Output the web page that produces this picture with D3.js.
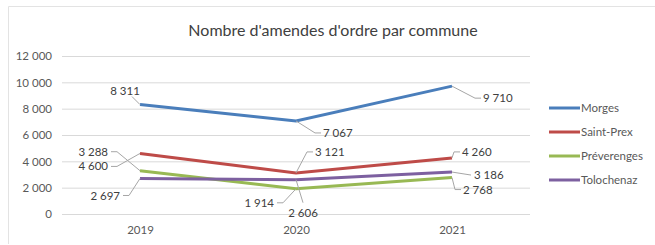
<!DOCTYPE HTML>
<html>
<head>
<meta charset="utf-8">
<title>Amendes d'ordre</title>
<script src="https://d3js.org/d3.v7.min.js"></script>
<style>
  body { margin: 0; background: #ffffff; }
  text { font-family: Lato, "Liberation Sans", sans-serif; }
</style>
</head>

<body>
<script>

"use strict";

const years = ["2019", "2020", "2021"];
const communes = ["Morges", "Saint-Prex", "Préverenges", "Tolochenaz"];
const morges = [8311, 7067, 9710];
const saintPrex = [4600, 3121, 4260];
const preverenges = [3288, 1914, 2768];
const tolochenaz = [2697, 2606, 3186];
const yTicks = [0, 2000, 4000, 6000, 8000, 10000, 12000];

const colors = ["#4a7ebb", "#be4b48", "#98b954", "#7d60a0"];
const seriesValues = [morges, saintPrex, preverenges, tolochenaz];

// where each data label sits relative to its point, and the leader path shape
// [dx, dy, anchor, leader type]
const labelPlacement = [
  [[-15, -14, "middle", "up"], [27, 12, "start", "right"], [31, 12, "start", "right"]],
  [[-32, 13, "end", "left"], [19, -21, "start", "rightUp"], [10, -6, "start", "rightUp"]],
  [[-32, -19, "end", "left"], [-22, 14, "end", "left"], [11, 12, "start", "right"]],
  [[-20, 17, "end", "left"], [7, 33, "middle", "down"], [22, 3, "start", "flat"]]
];

const width = 655, height = 245;
const margin = {left: 62, right: 125, top: 56, bottom: 31};

const fmt = (v) => d3.format(",")(v).replace(/,/g, " ");

const svg = d3.select("body").append("svg")
  .attr("width", width)
  .attr("height", height);

// chart frame
svg.append("path")
  .attr("d", "M8.5,244 V6.5 H655")
  .attr("fill", "none")
  .attr("stroke", "#e3e3e3");

svg.append("text")
  .attr("x", 333)
  .attr("y", 36)
  .attr("text-anchor", "middle")
  .attr("font-size", 16)
  .attr("fill", "#404040")
  .text("Nombre d'amendes d'ordre par commune");

const x = d3.scalePoint()
  .domain(years)
  .range([margin.left, width - margin.right])
  .padding(0.5);

const y = d3.scaleLinear()
  .domain([0, 12000])
  .range([height - margin.bottom, margin.top]);

const yAxis = svg.append("g")
  .attr("transform", "translate(" + margin.left + ",0)")
  .call(d3.axisLeft(y).tickValues(yTicks).tickFormat(fmt)
    .tickSize(-(width - margin.right - margin.left)).tickPadding(10));
yAxis.select(".domain").remove();
yAxis.selectAll("line").attr("stroke", "#d9d9d9");
yAxis.selectAll("text").attr("font-size", 11.5).attr("fill", "#595959");

const xAxis = svg.append("g")
  .attr("transform", "translate(0," + (height - margin.bottom) + ")")
  .call(d3.axisBottom(x).tickSize(0).tickPadding(12));
xAxis.select(".domain").remove();
xAxis.selectAll("text").attr("font-size", 11.5).attr("fill", "#595959");

const line = d3.line()
  .x((d, i) => x(years[i]))
  .y((d) => y(d));

seriesValues.forEach((vals, s) => {
  svg.append("path")
    .datum(vals)
    .attr("fill", "none")
    .attr("stroke", colors[s])
    .attr("stroke-width", 3)
    .attr("d", line);
});

// data labels with leader lines
seriesValues.forEach((vals, s) => {
  vals.forEach((v, i) => {
    const px = x(years[i]), py = y(v);
    const [dx, dy, anchor, kind] = labelPlacement[s][i];
    const lx = px + dx, ly = py + dy;
    let d;
    if (kind === "up") {
      d = "M" + px + "," + py + " L" + (px - 8) + "," + (ly + 6);
    } else if (kind === "right" || kind === "rightUp") {
      d = "M" + px + "," + py + " L" + (lx - 8) + "," + ly + " H" + (lx - 2);
    } else if (kind === "left") {
      d = "M" + px + "," + py + " L" + (lx + 9) + "," + ly + " H" + (lx + 3);
    } else if (kind === "down") {
      d = "M" + px + "," + py + " L" + (lx) + "," + (ly - 10);
    } else {
      d = "M" + px + "," + py + " L" + (lx - 3) + "," + ly;
    }
    svg.append("path")
      .attr("d", d)
      .attr("fill", "none")
      .attr("stroke", "#a6a6a6")
      .attr("stroke-width", 1);
    svg.append("text")
      .attr("x", lx)
      .attr("y", ly)
      .attr("dy", "0.35em")
      .attr("text-anchor", anchor)
      .attr("font-size", 11.5)
      .attr("fill", "#404040")
      .text(fmt(v));
  });
});

// legend
const legend = svg.append("g")
  .attr("transform", "translate(549,108)");
communes.forEach((name, s) => {
  const g = legend.append("g").attr("transform", "translate(0," + (s * 24) + ")");
  g.append("line")
    .attr("x1", 0).attr("x2", 31)
    .attr("stroke", colors[s])
    .attr("stroke-width", 3);
  g.append("text")
    .attr("x", 32)
    .attr("dy", "0.35em")
    .attr("font-size", 11.5)
    .attr("fill", "#595959")
    .text(name);
});

</script>
</body>
</html>
